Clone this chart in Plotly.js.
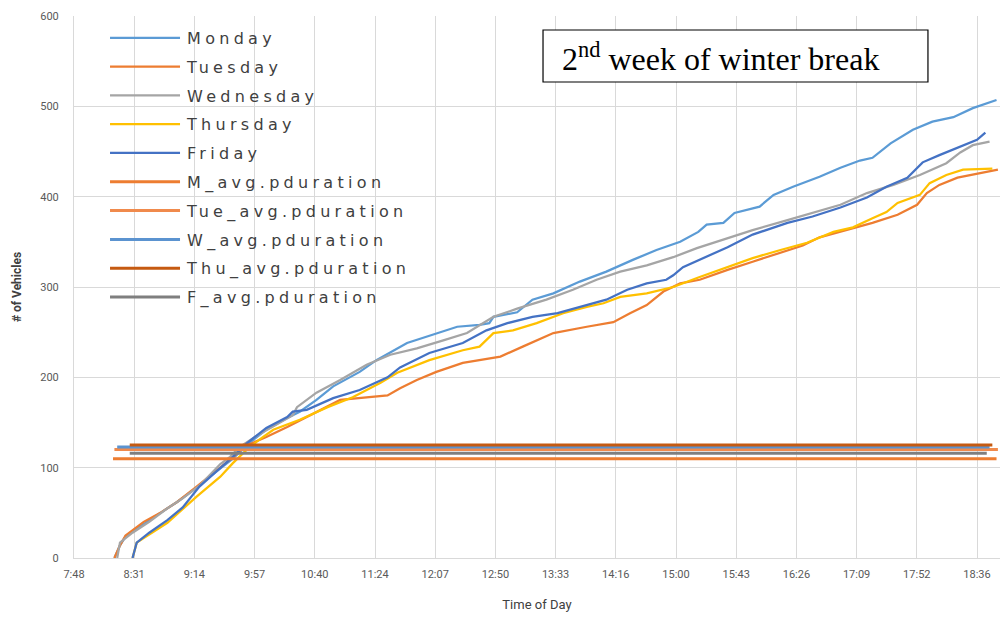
<!DOCTYPE html>
<html>
<head>
<meta charset="utf-8">
<script src="https://cdn.plot.ly/plotly-3.0.1.min.js"></script>
<style>
  html, body { margin: 0; padding: 0; background: #ffffff; }
  #chart { width: 1003px; height: 622px; }
  .legendtext { letter-spacing: 4.3px; }
</style>
</head>
<body>
<div id="chart"></div>
<script>
// ---- Data ----
const dayNames = ['Monday', 'Tuesday', 'Wednesday', 'Thursday', 'Friday'];

const monTime = ['08:17','08:21','08:25','08:38','08:50','09:02','09:16','09:28','09:42','09:52','10:06','10:21','10:30','10:42','10:54','11:13','11:25','11:47','12:08','12:23','12:39','12:46','12:49','13:06','13:17','13:32','13:51','14:10','14:29','14:46','15:03','15:16','15:22','15:34','15:42','16:00','16:10','16:24','16:43','16:58','17:12','17:21','17:34','17:50','18:04','18:19','18:33','18:50'];
const monVal  = [0,14,24,38,50,62,78,93,110,125,142,155,162,175,190,206,219,238,249,256,258,260,267,272,286,293,306,317,330,341,350,361,369,371,382,389,402,411,422,432,440,443,459,474,483,488,498,507];

const tueTime = ['08:17','08:21','08:25','08:38','08:50','09:02','09:16','09:28','09:36','09:44','09:51','10:06','10:21','10:35','10:50','10:59','11:33','11:42','11:54','12:08','12:27','12:39','12:54','13:10','13:32','13:56','14:15','14:27','14:39','14:51','15:03','15:17','15:37','15:55','16:15','16:31','16:43','17:03','17:21','17:39','17:53','18:00','18:09','18:22','18:38','18:51'];
const tueVal  = [0,14,25,40,50,62,79,94,105,114,124,134,145,156,167,175,180,188,197,206,216,219,223,234,249,256,261,271,280,295,304,308,319,328,338,346,355,363,371,380,391,404,413,421,426,430];

const wedTime = ['08:19','08:21','08:30','08:42','08:55','09:06','09:18','09:33','09:40','09:47','10:01','10:16','10:25','10:28','10:42','10:59','11:18','11:35','11:54','12:13','12:30','12:49','13:06','13:27','13:46','14:03','14:20','14:39','14:58','15:15','15:37','15:55','16:20','16:38','16:58','17:17','17:36','17:55','18:14','18:24','18:33','18:45'];
const wedVal  = [0,17,28,40,55,66,80,104,112,123,137,150,158,167,183,197,214,225,232,241,249,267,276,286,297,308,317,324,333,343,354,363,374,382,391,404,413,424,437,449,457,461];

const thuTime = ['08:30','08:33','08:55','09:16','09:33','09:42','09:52','10:01','10:11','10:30','10:50','11:08','11:28','11:40','12:03','12:27','12:39','12:49','13:03','13:20','13:39','13:56','14:08','14:20','14:39','14:58','15:17','15:37','15:55','16:15','16:34','16:53','17:07','17:21','17:31','17:39','17:55','18:02','18:14','18:26','18:38','18:47'];
const thuVal  = [0,17,39,68,90,105,120,131,142,153,167,178,194,205,219,230,234,249,252,260,271,278,282,289,293,300,311,322,332,341,349,361,366,376,383,393,402,415,424,430,431,431];

const friTime = ['08:30','08:33','08:42','08:55','09:06','09:18','09:31','09:42','09:52','10:01','10:06','10:21','10:25','10:35','10:54','11:13','11:33','11:42','12:03','12:27','12:44','12:59','13:17','13:35','13:51','14:10','14:25','14:39','14:53','14:58','15:05','15:17','15:37','15:55','16:20','16:38','16:58','17:17','17:31','17:46','17:57','18:09','18:24','18:36','18:42'];
const friVal  = [0,17,28,42,56,79,97,112,127,138,144,156,162,164,177,186,200,211,227,238,252,260,267,271,278,286,297,304,308,313,322,330,344,358,371,378,388,399,411,421,438,446,455,463,471];

const avgNames = ['M_avg.pduration', 'Tue_avg.pduration', 'W_avg.pduration', 'Thu_avg.pduration', 'F_avg.pduration'];
const avgValue = [110, 120, 123, 125, 116];
const avgStart = ['08:16', '08:17', '08:19', '08:28', '08:28'];
const avgEnd   = ['18:50', '18:51', '18:45', '18:47', '18:43'];

const tickStart = '07:48';
const axisEnd = '18:52:30';

// ---- Styling ----
const dayColors = ['#5B9BD5', '#ED7D31', '#A5A5A5', '#FFC000', '#4472C4'];
const avgColors = ['#ED7D31', '#F08A4C', '#5B93D0', '#C55A11', '#7F7F7F'];
const day = '2020-01-01 ';
const toDate = t => day + t;

const dayTimes = [monTime, tueTime, wedTime, thuTime, friTime];
const dayVals = [monVal, tueVal, wedVal, thuVal, friVal];

const traces = [];
dayNames.forEach((n, i) => {
  traces.push({
    type: 'scatter', mode: 'lines', name: n, legendgroup: 'g' + i,
    x: dayTimes[i].map(toDate), y: dayVals[i],
    line: { color: dayColors[i], width: 2.25 },
    hoverinfo: 'skip'
  });
});
avgNames.forEach((n, i) => {
  traces.push({
    type: 'scatter', mode: 'lines', name: n, legendgroup: 'a' + i,
    x: [toDate(avgStart[i]), toDate(avgEnd[i])], y: [avgValue[i], avgValue[i]],
    line: { color: avgColors[i], width: 3 },
    hoverinfo: 'skip'
  });
});

const axFamily = 'Liberation Sans Narrow, Arial Narrow, Roboto, sans-serif';
const tickFont = { family: axFamily, size: 11, color: '#595959' };

const layout = {
  width: 1003, height: 622,
  margin: { l: 74, r: 3, t: 16, b: 64 },
  paper_bgcolor: '#ffffff', plot_bgcolor: '#ffffff',
  showlegend: true,
  legend: {
    x: 0.0335, y: 0.991, xanchor: 'left', yanchor: 'top',
    bgcolor: 'rgba(0,0,0,0)', borderwidth: 0,
    font: { family: 'DejaVu Sans, Verdana, sans-serif', size: 16, color: '#404040' },
    itemwidth: 72, tracegroupgap: 5, traceorder: 'grouped'
  },
  xaxis: {
    type: 'date',
    range: [toDate(tickStart), toDate(axisEnd)],
    tick0: toDate(tickStart), dtick: 2592000,
    tickformat: '%-H:%M',
    showgrid: true, gridcolor: '#d9d9d9', gridwidth: 1,
    showline: true, linecolor: '#d9d9d9', linewidth: 1,
    zeroline: false, ticks: '',
    tickfont: tickFont, ticklabelstandoff: 6,
    title: { text: 'Time of Day', font: { family: axFamily, size: 13, color: '#404040' }, standoff: 19 }
  },
  yaxis: {
    range: [0, 600], dtick: 100,
    showgrid: true, gridcolor: '#d9d9d9', gridwidth: 1,
    showline: true, linecolor: '#d9d9d9', linewidth: 1,
    zeroline: false, ticks: '',
    tickfont: tickFont, ticklabelstandoff: 12,
    title: { text: '<b># of Vehicles</b>', font: { family: axFamily, size: 12, color: '#404040' }, standoff: 16 }
  },
  shapes: [{
    type: 'rect', xref: 'paper', yref: 'paper',
    x0: 0.5065, x1: 0.9222, y0: 0.8782, y1: 0.9742,
    line: { color: '#000000', width: 1.2 }, fillcolor: '#ffffff', layer: 'above'
  }],
  annotations: [{
    xref: 'paper', yref: 'paper', x: 0.5245, y: 0.9245,
    xanchor: 'left', yanchor: 'middle', showarrow: false,
    text: '2<sup>nd</sup> week of winter break',
    font: { family: 'Liberation Serif, Times New Roman, serif', size: 32, color: '#000000' }
  }]
};

Plotly.newPlot('chart', traces, layout, { staticPlot: true, displayModeBar: false }).then(() => {
  document.querySelectorAll('.legend .legendlines path.js-line').forEach(p => p.setAttribute('d', 'M5,0h70'));
});
</script>
</body>
</html>
